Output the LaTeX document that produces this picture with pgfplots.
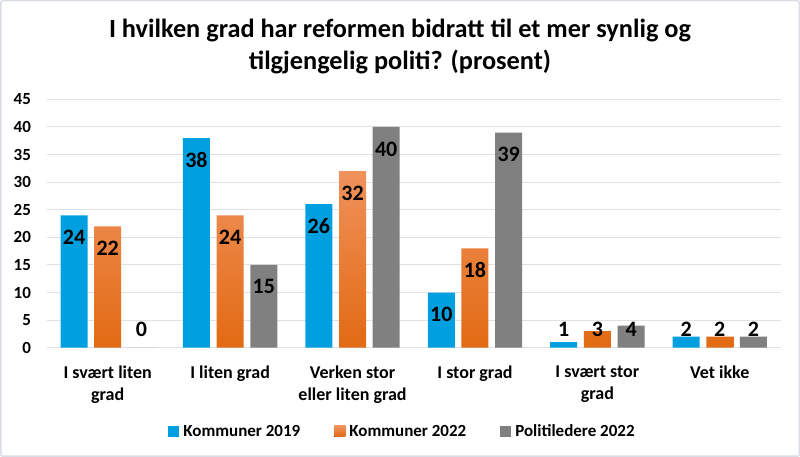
\documentclass[border=0pt]{standalone}
\usepackage{pgfplots}
\pgfplotsset{compat=1.18}
\usepackage{fontspec}
\setmainfont{Carlito}
\definecolor{cblue}{HTML}{009FE0}
\definecolor{otop}{HTML}{F0915C}
\definecolor{omid}{HTML}{F47E2A}
\definecolor{obot}{HTML}{E26A12}
\definecolor{cgray}{HTML}{808080}
\definecolor{gridc}{HTML}{DDE1E8}
\definecolor{framec}{HTML}{D9DEE6}
\begin{document}
\begin{tikzpicture}[x=1pt,y=1pt]
\useasboundingbox (0,0) rectangle (800,457);
\draw[framec, line width=1.5pt, rounded corners=2pt] (0.75,0.75) rectangle (799.25,456.25);
\node[align=center, font=\fontsize{26.3}{32}\selectfont\bfseries] at (400,411) {I hvilken grad har reformen bidratt til et mer synlig og\\tilgjengelig politi? (prosent)};
\begin{axis}[
  at={(46.5pt,109.3pt)}, anchor=south west,
  scale only axis, width=734.5pt, height=248.3pt,
  ybar=6.7pt, bar width=27pt,
  xmin=-0.5, xmax=5.5, ymin=0, ymax=45,
  ytick={0,5,...,45},
  xtick={0,1,2,3,4,5},
  xticklabels={{I svært liten\\grad},{I liten grad},{Verken stor\\eller liten grad},{I stor grad},{I svært stor\\grad},{Vet ikke}},
  xticklabel style={align=center, font=\fontsize{18}{22}\selectfont\bfseries, yshift=-10pt},
  yticklabel style={font=\fontsize{17}{20}\selectfont\bfseries, xshift=-12pt},
  /pgf/number format/assume math mode=true,
  axis line style={draw=none},
  tick style={draw=none},
  ymajorgrids, grid style={gridc, line width=1pt},
  visualization depends on={rawy \as \rawy},
  nodes near coords,
  nodes near coords style={font=\fontsize{22}{26}\selectfont\bfseries, anchor=center, yshift={ifthenelse(\rawy<9.5,(3.3-\rawy)*5.518,-22)}},
  legend columns=3,
  legend style={draw=none, fill=none, at={(0.4847,-0.3375)}, anchor=center, font=\fontsize{17}{21}\selectfont\bfseries,
    /tikz/every odd column/.append style={column sep=2pt},
    /tikz/every even column/.append style={column sep=32pt}},
  legend image code/.code={\fill[#1] (0pt,-5.5pt) rectangle (11pt,5.5pt);},
]
\addplot[fill=cblue, draw=none] coordinates {(0,24) (1,38) (2,26) (3,10) (4,1) (5,2)};
\addplot[top color=otop, middle color=omid, bottom color=obot, draw=none] coordinates {(0,22) (1,24) (2,32) (3,18) (4,3) (5,2)};
\addplot[fill=cgray, draw=none] coordinates {(0,0) (1,15) (2,40) (3,39) (4,4) (5,2)};
\legend{Kommuner 2019, Kommuner 2022, Politiledere 2022}
\end{axis}
\end{tikzpicture}
\end{document}
